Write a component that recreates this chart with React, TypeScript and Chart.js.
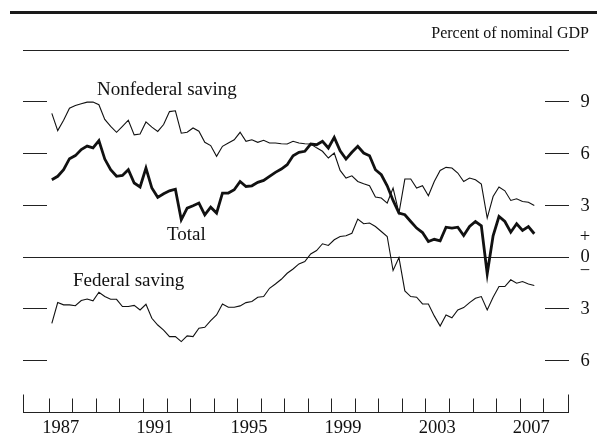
import React, { useEffect, useRef } from "react";
import { Chart, registerables } from "chart.js";

Chart.register(...registerables);

// Quarterly data, 1987:Q1 – 2007:Q3 (percent of nominal GDP)
const START_YEAR = 1987;

const nonfederal = [
  8.3, 7.3, 7.9, 8.6, 8.75, 8.85, 8.95, 8.95, 8.8, 7.95,
  7.55, 7.2, 7.55, 7.9, 7.05, 7.1, 7.8, 7.5, 7.25, 7.65,
  8.4, 8.45, 7.15, 7.2, 7.45, 7.26, 6.62, 6.43, 5.81, 6.39,
  6.58, 6.77, 7.2, 6.68, 6.77, 6.62, 6.74, 6.58, 6.58, 6.54,
  6.52, 6.68, 6.58, 6.54, 6.52, 6.3, 6.1, 5.71, 6.0, 4.99,
  4.55, 4.68, 4.35, 4.22, 4.1, 3.45, 3.39, 3.1, 3.97, 2.52,
  4.49, 4.49, 3.97, 4.1, 3.52, 4.35, 4.99, 5.17, 5.13, 4.84,
  4.35, 4.55, 4.45, 4.2, 2.23, 3.48, 4.03, 3.81, 3.25, 3.35,
  3.19, 3.15, 2.96,
];

const total = [
  4.45, 4.65, 5.03, 5.67, 5.85, 6.2, 6.4, 6.3, 6.72, 5.65,
  5.03, 4.65, 4.7, 5.03, 4.26, 4.03, 5.13, 3.97, 3.43, 3.64,
  3.81, 3.9, 2.13, 2.8, 2.94, 3.1, 2.42, 2.86, 2.52, 3.68,
  3.68, 3.87, 4.35, 4.06, 4.1, 4.3, 4.41, 4.65, 4.88, 5.07,
  5.32, 5.84, 6.04, 6.1, 6.52, 6.48, 6.68, 6.29, 6.91, 6.13,
  5.65, 6.04, 6.39, 6.0, 5.84, 5.03, 4.74, 4.1, 3.25, 2.52,
  2.42, 2.03, 1.65, 1.39, 0.87, 1.0, 0.91, 1.7, 1.65, 1.7,
  1.22, 1.74, 2.03, 1.78, -1.0, 1.2, 2.32, 2.03, 1.41, 1.9,
  1.51, 1.74, 1.32,
];

const federal = [
  -3.87, -2.67, -2.8, -2.8, -2.85, -2.55, -2.46, -2.57, -2.07, -2.32,
  -2.48, -2.48, -2.9, -2.9, -2.83, -3.1, -2.77, -3.58, -3.97, -4.26,
  -4.64, -4.64, -4.93, -4.6, -4.64, -4.16, -4.1, -3.72, -3.39, -2.75,
  -2.94, -2.94, -2.86, -2.67, -2.61, -2.36, -2.32, -1.84, -1.59, -1.32,
  -0.97, -0.72, -0.43, -0.29, 0.15, 0.35, 0.74, 0.64, 0.97, 1.16,
  1.2, 1.35, 2.17, 1.9, 1.94, 1.74, 1.45, 1.16, -0.81, -0.06,
  -1.99, -2.32, -2.36, -2.75, -2.75, -3.44, -4.03, -3.39, -3.55, -3.1,
  -2.96, -2.67, -2.42, -2.32, -3.1, -2.36, -1.74, -1.74, -1.35, -1.55,
  -1.45, -1.59, -1.68,
];

const yTickValues = [9, 6, 3, 0, -3, -6];
const yTickLabels = ["9", "6", "3", "0", "3", "6"];
const yearTickStart = 1987;
const yearTickEnd = 2008;
const yearLabels = [1987, 1991, 1995, 1999, 2003, 2007];

const X_MIN = 1985.9;
const X_MAX = 2009.1;
const Y_MIN = -9;
const Y_MAX = 12;

const FONT = '"Liberation Serif", "DejaVu Serif", serif';
const INK = "#111";
const RULE = "#222";

const toPoints = (vals: number[]) =>
  vals.map((v, i) => ({ x: START_YEAR + (i + 0.5) / 4, y: v }));

const decorPlugin = {
  id: "decor",
  beforeDatasetsDraw(chart: any) {
    const { ctx, chartArea: a, scales } = chart;
    const x = scales.x;
    const y = scales.y;
    const seg = (x1: number, y1: number, x2: number, y2: number) => {
      ctx.beginPath();
      ctx.moveTo(x1, y1);
      ctx.lineTo(x2, y2);
      ctx.stroke();
    };
    ctx.save();
    ctx.strokeStyle = RULE;
    ctx.lineWidth = 1;
    // top thin rule
    seg(a.left, Math.round(a.top) + 0.5, a.right, Math.round(a.top) + 0.5);
    // zero line
    const y0 = Math.round(y.getPixelForValue(0)) + 0.5;
    seg(a.left, y0, a.right, y0);
    // y tick marks both sides
    for (const v of yTickValues) {
      const py = Math.round(y.getPixelForValue(v)) + 0.5;
      seg(a.left, py, a.left + 24, py);
      seg(a.right - 24, py, a.right, py);
    }
    // x axis
    const by = Math.round(a.bottom) + 0.5;
    seg(a.left, by, a.right, by);
    seg(Math.round(a.left) + 0.5, by, Math.round(a.left) + 0.5, by - 18);
    seg(Math.round(a.right) - 0.5, by, Math.round(a.right) - 0.5, by - 18);
    for (let yr = yearTickStart; yr <= yearTickEnd; yr++) {
      const px = Math.round(x.getPixelForValue(yr)) + 0.5;
      seg(px, by, px, by - 14);
    }
    ctx.restore();
  },
  afterDraw(chart: any) {
    const { ctx, chartArea: a, scales, width } = chart;
    const x = scales.x;
    const y = scales.y;
    ctx.save();
    // heavy top rule
    ctx.strokeStyle = "#1a1a1a";
    ctx.lineWidth = 3;
    ctx.beginPath();
    ctx.moveTo(10, 12.5);
    ctx.lineTo(width, 12.5);
    ctx.stroke();

    ctx.fillStyle = INK;
    ctx.textBaseline = "alphabetic";
    ctx.font = `16px ${FONT}`;
    ctx.textAlign = "right";
    ctx.fillText("Percent of nominal GDP", 589, 38);

    // year labels
    ctx.font = `18.5px ${FONT}`;
    ctx.textAlign = "center";
    for (const yr of yearLabels) {
      ctx.fillText(String(yr), x.getPixelForValue(yr + 0.5), 433);
    }
    // right-hand value labels
    ctx.textBaseline = "middle";
    yTickValues.forEach((v, i) => {
      ctx.fillText(yTickLabels[i], 585, y.getPixelForValue(v) + 1);
    });
    const y0 = y.getPixelForValue(0);
    ctx.fillText("+", 585, y0 - 19);
    ctx.fillText("\u2212", 585, y0 + 15);

    // series labels
    ctx.textBaseline = "alphabetic";
    ctx.textAlign = "left";
    ctx.font = `19px ${FONT}`;
    ctx.fillText("Nonfederal saving", 97, 94.5);
    ctx.fillText("Total", 167, 239.5);
    ctx.fillText("Federal saving", 73, 285.5);
    ctx.restore();
  },
};

export default function App() {
  const ref = useRef<HTMLCanvasElement | null>(null);
  useEffect(() => {
    if (!ref.current) return;
    const chart = new Chart(ref.current, {
      type: "line",
      data: {
        datasets: [
          {
            label: "Nonfederal saving",
            data: toPoints(nonfederal),
            borderColor: INK,
            borderWidth: 1.1,
            pointRadius: 0,
            tension: 0,
          },
          {
            label: "Federal saving",
            data: toPoints(federal),
            borderColor: INK,
            borderWidth: 1.1,
            pointRadius: 0,
            tension: 0,
          },
          {
            label: "Total",
            data: toPoints(total),
            borderColor: INK,
            borderWidth: 2.8,
            pointRadius: 0,
            tension: 0,
          },
        ],
      },
      options: {
        animation: false,
        responsive: false,
        devicePixelRatio: 1,
        layout: { padding: { left: 23, right: 28, top: 49.5, bottom: 22.2 } },
        plugins: { legend: { display: false }, tooltip: { enabled: false } },
        scales: {
          x: { type: "linear", min: X_MIN, max: X_MAX, display: false },
          y: { type: "linear", min: Y_MIN, max: Y_MAX, display: false },
        },
      },
      plugins: [decorPlugin],
    });
    return () => chart.destroy();
  }, []);
  return (
    <div style={{ position: "fixed", left: 0, top: 0, width: 597, height: 434, background: "#fff" }}>
      <canvas ref={ref} width={597} height={434} />
    </div>
  );
}
